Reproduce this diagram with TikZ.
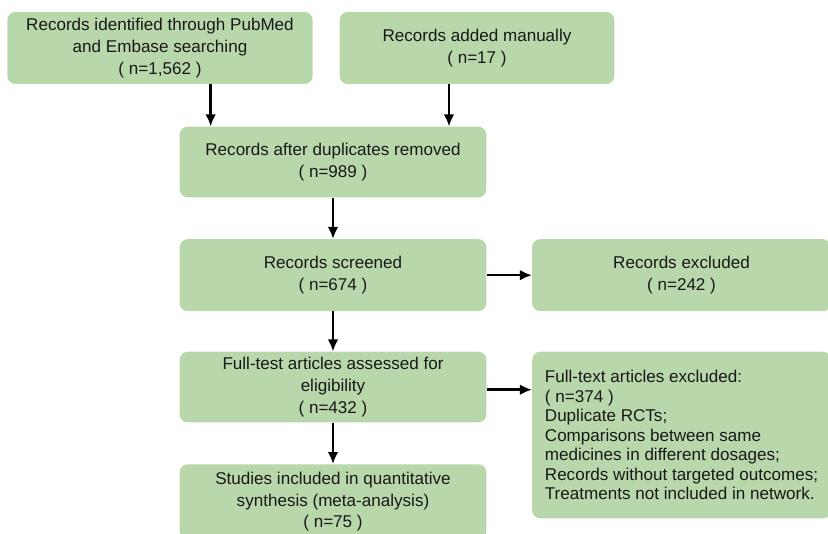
\documentclass[tikz,border=0pt]{standalone}
\usepackage{fontspec}
\setmainfont{Liberation Sans}
\usetikzlibrary{arrows.meta,positioning}
\definecolor{boxgreen}{RGB}{184,215,170}
\definecolor{txtgray}{RGB}{25,25,25}

\begin{document}
\begin{tikzpicture}[x=0.75pt, y=-0.75pt,
	every node/.style={font=\fontsize{12.8}{16.2}\selectfont, text=txtgray},
	box/.style={rectangle, rounded corners=6pt, fill=boxgreen, align=center, inner sep=3pt},
	arr/.style={-{Latex[length=9pt,width=8pt]}, line width=1.9pt, black}]
		\useasboundingbox (0,0) rectangle (828,534);
		\clip (0,0) rectangle (828,534);
		
		\node[box, minimum width=229pt, minimum height=54pt] (v1) at (160,48) {Records identified through PubMed\\and Embase searching\\( n=1,562 )};
		
		\node[box, minimum width=206pt, minimum height=54pt] (v2) at (477,48) {Records added manually\\( n=17 )};
		
		\node[box, minimum width=230pt, minimum height=53pt] (v3) at (333,162) {Records after duplicates removed\\( n=989 )};
		
		\node[box, minimum width=230pt, minimum height=54pt, below=31pt of v3] (v4) {Records screened\\( n=674 )};
		
		\node[box, minimum width=224pt, minimum height=54pt, right=34pt of v4] (v5) {Records excluded\\( n=242 )};
		
		\node[box, minimum width=230pt, minimum height=53pt, below=30pt of v4] (v6) {Full-test articles assessed for\\eligibility\\( n=432 )};
		
		\node[box, align=left, minimum width=224pt, minimum height=125pt, font=\fontsize{12.8}{14.6}\selectfont, right=34pt of v6.north east, anchor=north west] (v7) {Full-text articles excluded:\\( n=374 )\\Duplicate RCTs;\\Comparisons between same\\medicines in different dosages;\\Records without targeted outcomes;\\Treatments not included in network.};
		
		\node[box, minimum width=230pt, minimum height=56pt, below=31pt of v6] (v8) {Studies included in quantitative\\synthesis (meta-analysis)\\( n=75 )};
		
		\draw[arr] ([xshift=38pt]v1.south) -- ([xshift=38pt]v1.south |- v3.north);
		\draw[arr] ([xshift=-21pt]v2.south) -- ([xshift=-21pt]v2.south |- v3.north);
		\draw[arr] (v3) -- (v4);
		\draw[arr] (v4) -- (v5);
		\draw[arr] (v4) -- (v6);
		\draw[arr] ([yshift=-2pt]v6.east) -- ([yshift=-2pt]v6.east -| v7.west);
		\draw[arr] (v6) -- (v8);
		
\end{tikzpicture}
\end{document}
